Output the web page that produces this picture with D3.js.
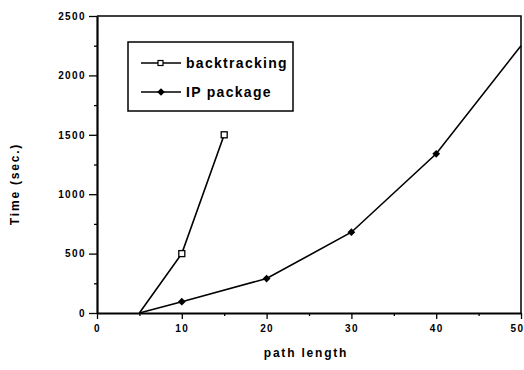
<!DOCTYPE html>
<html>
<head>
<meta charset="utf-8">
<script src="https://cdn.jsdelivr.net/npm/d3@7"></script>
<style>
  body { margin: 0; background: #fff; }
  svg, svg text { font-family: "Liberation Sans Narrow", "Liberation Sans", Arial, sans-serif; font-weight: bold; }
  .tick text { font-size: 10px; letter-spacing: 1.4px; }
</style>
</head>
<body>
<div id="chart"></div>
<script>
// series values
const backtrackX = [5, 10, 15];
const backtrackY = [0, 500, 1500];
const ipX = [5, 10, 20, 30, 40, 50];
const ipY = [0, 95, 290, 680, 1340, 2250];
const xTicks = [0, 10, 20, 30, 40, 50];
const yTicks = [0, 500, 1000, 1500, 2000, 2500];
const legendNames = ['backtracking', 'IP package'];

const W = 524, H = 370;
const margin = { top: 16, right: 3, bottom: 57, left: 97 };
const width = W - margin.left - margin.right;
const height = H - margin.top - margin.bottom;

const svg = d3.select('#chart').append('svg')
    .attr('width', W)
    .attr('height', H);

const g = svg.append('g')
    .attr('transform', `translate(${margin.left},${margin.top})`);

const x = d3.scaleLinear().domain([0, 50]).range([0, width]);
const y = d3.scaleLinear().domain([0, 2500]).range([height, 0]);

// frame (top + right)
g.append('path')
    .attr('d', `M0,0H${width}V${height}`)
    .attr('fill', 'none')
    .attr('stroke', '#000')
    .attr('stroke-width', 1.5);

// minor ticks
g.append('g')
    .attr('transform', `translate(0,${height})`)
    .call(d3.axisBottom(x).tickValues([5, 15, 25, 35, 45]).tickSize(3).tickFormat(''))
    .call(a => a.select('.domain').remove());
g.append('g')
    .call(d3.axisLeft(y).tickValues([250, 750, 1250, 1750, 2250]).tickSize(3).tickFormat(''))
    .call(a => a.select('.domain').remove());

// axes
const xAxis = g.append('g')
    .attr('transform', `translate(0,${height})`)
    .call(d3.axisBottom(x).tickValues(xTicks).tickFormat(d3.format('d'))
        .tickSize(6).tickPadding(6).tickSizeOuter(0));
const yAxis = g.append('g')
    .call(d3.axisLeft(y).tickValues(yTicks).tickFormat(d3.format('d'))
        .tickSize(8).tickPadding(3).tickSizeOuter(0));

[xAxis, yAxis].forEach(a => {
    a.attr('font-family', null).attr('font-size', null);
    a.select('.domain').attr('stroke-width', 2.2);
});
g.selectAll('.tick line').attr('stroke-width', 1.3);
// keep the last x label inside the picture
xAxis.selectAll('.tick text').filter(d => d === 50).attr('text-anchor', 'end').attr('dx', 3);

const line = d3.line().x(d => x(d[0])).y(d => y(d[1]));

const btData = backtrackX.map((v, i) => [v, backtrackY[i]]);
const ipData = ipX.map((v, i) => [v, ipY[i]]);

g.append('path')
    .datum(btData)
    .attr('d', line)
    .attr('fill', 'none')
    .attr('stroke', '#000')
    .attr('stroke-width', 1.6);

g.append('path')
    .datum(ipData)
    .attr('d', line)
    .attr('fill', 'none')
    .attr('stroke', '#000')
    .attr('stroke-width', 1.6);

// markers
g.selectAll('.bt-pt')
    .data(btData.slice(1))
    .join('rect')
    .attr('class', 'bt-pt')
    .attr('x', d => x(d[0]) - 3)
    .attr('y', d => y(d[1]) - 3)
    .attr('width', 6)
    .attr('height', 6)
    .attr('fill', '#fff')
    .attr('stroke', '#000')
    .attr('stroke-width', 1.3);

const diamond = d3.symbol().type(d3.symbolSquare).size(30);
g.selectAll('.ip-pt')
    .data(ipData.slice(1, -1))
    .join('path')
    .attr('class', 'ip-pt')
    .attr('transform', d => `translate(${x(d[0])},${y(d[1])}) rotate(45)`)
    .attr('d', diamond)
    .attr('fill', '#000');

// legend
const legend = svg.append('g');
legend.append('rect')
    .attr('x', 128)
    .attr('y', 42)
    .attr('width', 165)
    .attr('height', 69)
    .attr('fill', '#fff')
    .attr('stroke', '#000')
    .attr('stroke-width', 1.5);

legendNames.forEach((name, i) => {
    const ly = 63 + i * 29;
    legend.append('line')
        .attr('x1', 141).attr('x2', 181)
        .attr('y1', ly).attr('y2', ly)
        .attr('stroke', '#000')
        .attr('stroke-width', 1.3);
    if (i === 0) {
        legend.append('rect')
            .attr('x', 158).attr('y', ly - 2.5)
            .attr('width', 5).attr('height', 5)
            .attr('fill', '#fff')
            .attr('stroke', '#000')
            .attr('stroke-width', 1.2);
    } else {
        legend.append('path')
            .attr('transform', `translate(161,${ly}) rotate(45)`)
            .attr('d', diamond)
            .attr('fill', '#000');
    }
    legend.append('text')
        .attr('x', 186)
        .attr('y', ly + 5)
        .style('font-size', '14px')
        .style('letter-spacing', '1.3px')
        .text(name);
});

// axis titles
svg.append('text')
    .attr('transform', 'rotate(-90)')
    .attr('x', -184)
    .attr('y', 19)
    .attr('text-anchor', 'middle')
    .style('font-size', '12px')
    .style('letter-spacing', '1.8px')
    .text('Time (sec.)');

svg.append('text')
    .attr('x', 306)
    .attr('y', 357)
    .attr('text-anchor', 'middle')
    .style('font-size', '12px')
    .style('letter-spacing', '1.8px')
    .text('path length');
</script>
</body>
</html>
